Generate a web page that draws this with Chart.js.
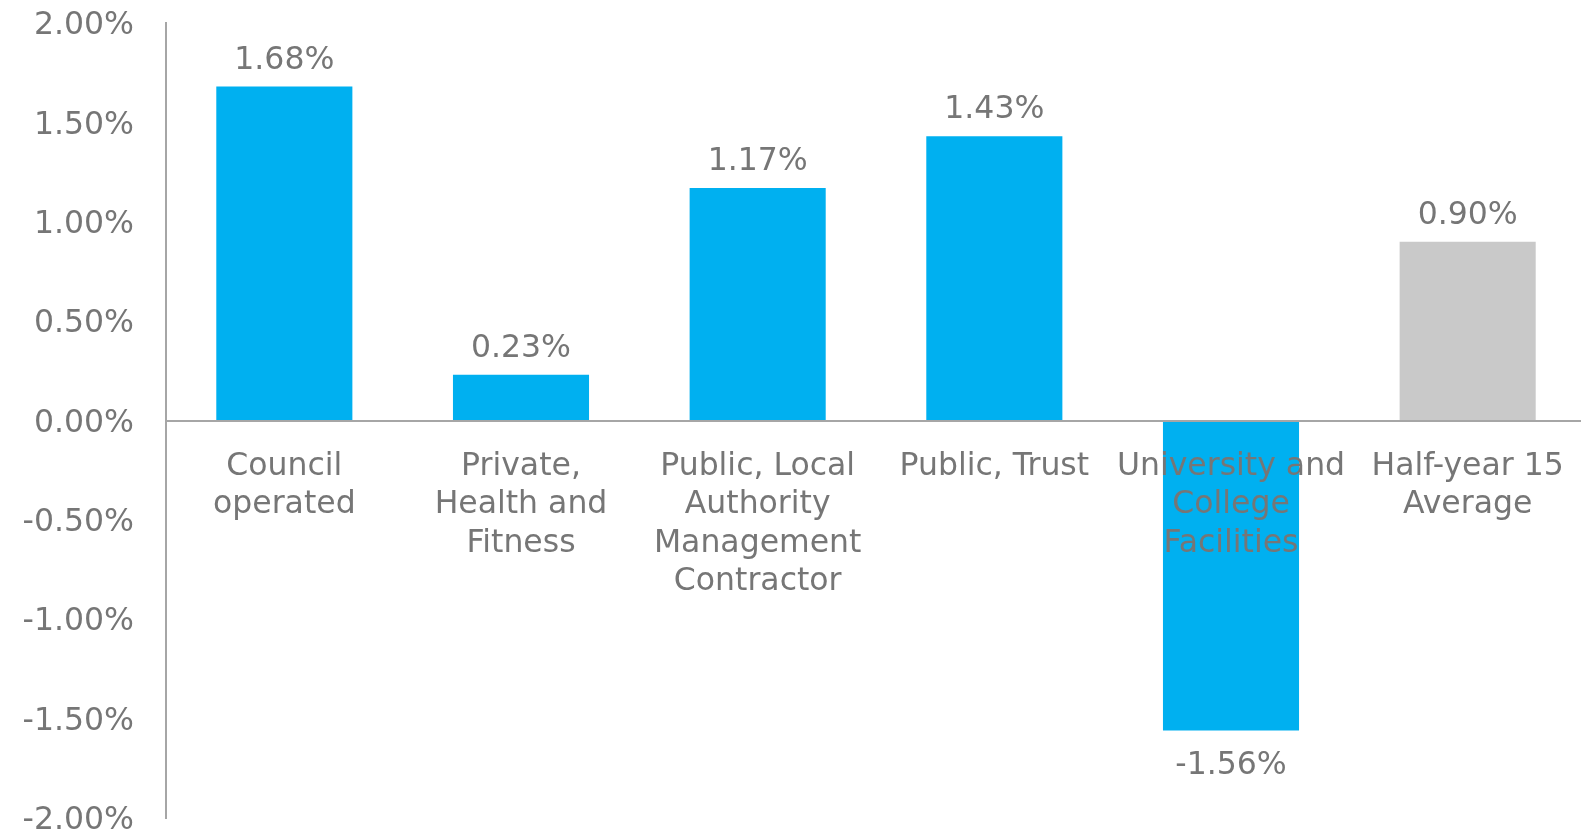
<!DOCTYPE html>
<html>
<head>
<meta charset="utf-8">
<script src="https://cdn.jsdelivr.net/npm/chart.js@4/dist/chart.umd.min.js"></script>
<style>
  html, body { margin: 0; padding: 0; background: #ffffff; overflow: hidden; }
  #wrap { width: 1581px; height: 833px; overflow: hidden; }
  #chart { display: block; }
</style>
</head>
<body>
<div id="wrap"><canvas id="chart" width="1586" height="833"></canvas></div>
<script>
// Year-on-year change by operator type (percent)
const categories = [
  ['Council', 'operated'],
  ['Private,', 'Health and', 'Fitness'],
  ['Public, Local', 'Authority', 'Management', 'Contractor'],
  ['Public, Trust'],
  ['University and', 'College', 'Facilities'],
  ['Half-year 15', 'Average']
];
const changeValues = [1.68, 0.23, 1.17, 1.43, -1.56, 0.90];
const yTicks = [-2.0, -1.5, -1.0, -0.5, 0.0, 0.5, 1.0, 1.5, 2.0];

const TEXT = '#767676';
const BLUE = '#00B0F0';
const GREY = '#C9C9C9';
const FONT = '"DejaVu Sans", Verdana, sans-serif';
const SIZE = 31.5;

const fmt = v => v.toFixed(2) + '%';

// Value labels above positive bars and below negative ones
const valueLabels = {
  id: 'valueLabels',
  afterDatasetsDraw(chart) {
    const ctx = chart.ctx;
    const meta = chart.getDatasetMeta(0);
    ctx.save();
    ctx.font = SIZE + 'px ' + FONT;
    ctx.fillStyle = TEXT;
    ctx.textAlign = 'center';
    ctx.textBaseline = 'alphabetic';
    meta.data.forEach((bar, i) => {
      const v = changeValues[i];
      const y = v >= 0 ? bar.y - 18 : bar.y + 43;
      ctx.fillText(fmt(v), bar.x, y);
    });
    ctx.restore();
  }
};

new Chart(document.getElementById('chart'), {
  type: 'bar',
  data: {
    labels: categories,
    datasets: [{
      data: changeValues,
      backgroundColor: c => c.dataIndex === categories.length - 1 ? GREY : BLUE,
      borderWidth: 0,
      barPercentage: 0.575,
      categoryPercentage: 1.0
    }]
  },
  options: {
    responsive: false,
    animation: false,
    layout: { padding: { top: 23, bottom: 15, left: 0, right: 0 } },
    plugins: {
      legend: { display: false },
      tooltip: { enabled: false }
    },
    scales: {
      x: {
        position: { y: 0 },
        grid: { display: false, drawTicks: false },
        border: { display: true, color: '#A6A6A6', width: 2, z: 1 },
        ticks: {
          z: 1,
          color: TEXT,
          font: { family: FONT, size: SIZE, lineHeight: 1.22 },
          padding: 27,
          maxRotation: 0,
          autoSkip: false
        },
        afterFit(scale) { scale.paddingLeft = 0; scale.paddingRight = 0; }
      },
      y: {
        min: -2,
        max: 2,
        grid: { display: false, drawTicks: false },
        border: { display: true, color: '#A6A6A6', width: 2 },
        afterBuildTicks(scale) { scale.ticks = yTicks.map(v => ({ value: v })); },
        ticks: {
          color: TEXT,
          font: { family: FONT, size: SIZE },
          padding: 32,
          labelOffset: 3,
          callback: v => fmt(v)
        },
        afterFit(scale) {
          scale.width = 166;
          scale.paddingTop = 0;
          scale.paddingBottom = 0;
        }
      }
    }
  },
  plugins: [valueLabels]
});
</script>
</body>
</html>
